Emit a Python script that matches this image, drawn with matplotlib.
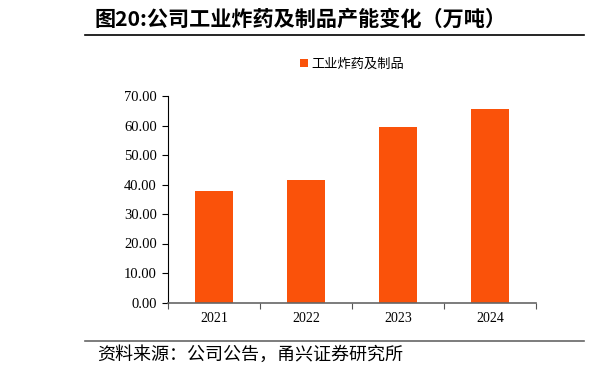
import matplotlib

matplotlib.use("Agg")
import matplotlib.pyplot as plt
from matplotlib.lines import Line2D

plt.rcParams["font.family"] = ["Noto Sans CJK SC", "DejaVu Sans"]

years = ["2021", "2022", "2023", "2024"]
capacity = [37.7, 41.4, 59.4, 65.6]
yticks = [0, 10, 20, 30, 40, 50, 60, 70]
series_name = "工业炸药及制品"
title = "图20:公司工业炸药及制品产能变化（万吨）"
source = "资料来源：公司公告，甬兴证券研究所"

bar_color = "#FA520A"
num_font = "Liberation Serif"

fig = plt.figure(figsize=(6.11, 3.74), dpi=100)
ax = fig.add_axes([168 / 611, 1 - 302.5 / 374, 368 / 611, 206.5 / 374])

x = list(range(len(years)))
ax.bar(x, capacity, width=0.42, color=bar_color, label=series_name, zorder=2)

ax.set_xlim(-0.5, len(years) - 0.5)
ax.set_ylim(0, 70)
ax.set_yticks(yticks)
ax.set_yticklabels([f"{v:.2f}" for v in yticks], fontfamily=num_font, fontsize=10.5)
ax.set_xticks(x)
ax.set_xticklabels(years, fontfamily=num_font, fontsize=10)
ax.tick_params(axis="x", length=0, pad=7)
ax.tick_params(axis="y", length=4, width=0.8, direction="out", pad=4)

# category boundary ticks on the x axis
ax.set_xticks([i - 0.5 for i in range(len(years) + 1)], minor=True)
ax.tick_params(axis="x", which="minor", length=4, width=0.8, color="#555555", direction="out")

for side in ("top", "right"):
    ax.spines[side].set_visible(False)
ax.spines["left"].set_linewidth(0.8)
ax.spines["bottom"].set_color("#666666")
ax.spines["bottom"].set_linewidth(1.2)

ax.legend(loc="lower center", bbox_to_anchor=(0.5, 1.065), frameon=False,
          fontsize=9.5, handlelength=0.6, handleheight=0.6, handletextpad=0.3)

fig.text(95 / 611, 1 - 19 / 374, title, fontsize=15.2, fontweight="bold",
         va="center", ha="left")
fig.add_artist(Line2D([85 / 611, 584 / 611], [1 - 34.5 / 374] * 2,
                      color="black", linewidth=1.2, transform=fig.transFigure))
fig.add_artist(Line2D([85 / 611, 584 / 611], [1 - 341 / 374] * 2,
                      color="#666666", linewidth=1.2, transform=fig.transFigure))
fig.text(97 / 611, 1 - 355 / 374, source, fontsize=13, style="italic",
         va="center", ha="left")

fig.savefig("out.png", dpi=100)
